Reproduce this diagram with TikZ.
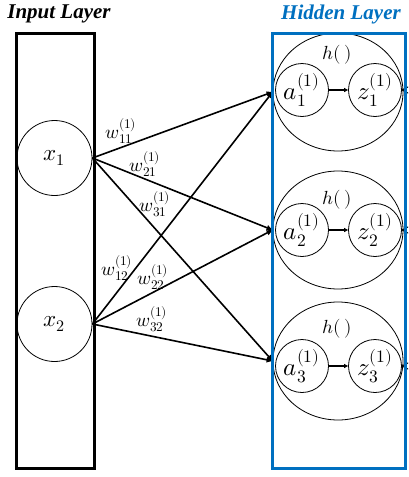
\documentclass[tikz,border=0pt]{standalone}
\usepackage{fontspec}
\usepackage{unicode-math}
\setmathfont{Latin Modern Math}
\newfontfamily\titlefont{Liberation Serif}
\usetikzlibrary{arrows.meta,shapes.geometric}
\definecolor{hblue}{RGB}{0,112,192}
\begin{document}
\begin{tikzpicture}[x=1pt,y=-1pt,
  layerbox/.style={draw,line width=3pt,inner sep=0pt,outer sep=0pt},
  ttl/.style={font={\titlefont\fontsize{21}{24}\selectfont\bfseries\itshape},inner sep=0pt},
  inneuron/.style={circle,draw,line width=0.8pt,minimum size=75pt,inner sep=0pt,font=\fontsize{23}{26}\selectfont},
  neuron/.style={circle,draw,line width=0.8pt,minimum size=53pt,inner sep=0pt,font=\fontsize{25}{28}\selectfont},
  hbig/.style={ellipse,draw,line width=0.8pt,minimum width=130pt,minimum height=118pt,inner sep=0pt},
  hlab/.style={font=\fontsize{19}{22}\selectfont,inner sep=0pt},
  wlab/.style={font=\fontsize{19}{21}\selectfont,inner sep=0pt},
  conn/.style={line width=1.6pt,-{Triangle[length=6pt,width=5pt]}},
  inner/.style={line width=1.3pt,-{Triangle[length=4pt,width=4pt]}},
  stub/.style={line width=1pt}
]
\clip (0,0) rectangle (408,477);

% titles
\node[ttl] (tin) at (59,14) {Input Layer};
\node[ttl,text=hblue] (thid) at (341,14) {Hidden Layer};

% input neurons
\node[inneuron] (x1) at (54.5,158) {$x_1$};
\node[inneuron] (x2) at (54.5,324) {$x_2$};

% hidden groups
\foreach \i/\ye/\ya/\yh in {1/92/90/55, 2/230/230/200, 3/361/366/329}{
  \node[hbig] (h\i) at (338,\ye) {};
  \node[neuron] (a\i) at (302,\ya) {$a^{(1)}_{\i}$};
  \node[neuron] (z\i) at (375,\ya) {$z^{(1)}_{\i}$};
  \node[hlab] (hl\i) at (337,\yh) {$h(\,)$};
  \draw[inner] (a\i) -- (z\i);
  \coordinate (o\i a) at (420,\ya-9);
  \coordinate (o\i b) at (420,\ya+9);
  \draw[stub] (z\i.east) -- (o\i a);
  \draw[stub] (z\i.east) -- (o\i b);
}

% connections
\foreach \s in {1,2}{
  \foreach \t in {1,2,3}{
    \draw[conn] (x\s.east) -- (h\t.west);
  }
}

% weight labels
\node[wlab] (w11) at (121,131) {$w^{(1)}_{11}$};
\node[wlab] (w21) at (145,164) {$w^{(1)}_{21}$};
\node[wlab] (w31) at (155,204) {$w^{(1)}_{31}$};
\node[wlab] (w12) at (117,268) {$w^{(1)}_{12}$};
\node[wlab] (w22) at (153,277) {$w^{(1)}_{22}$};
\node[wlab] (w32) at (152,319) {$w^{(1)}_{32}$};

% layer boxes
\node[layerbox,minimum width=78.5pt,minimum height=435pt] (inbox) at (55.25,250.5) {};
\node[layerbox,draw=hblue,minimum width=133pt,minimum height=435.5pt] (hidbox) at (338.5,250.75) {};
\end{tikzpicture}
\end{document}
